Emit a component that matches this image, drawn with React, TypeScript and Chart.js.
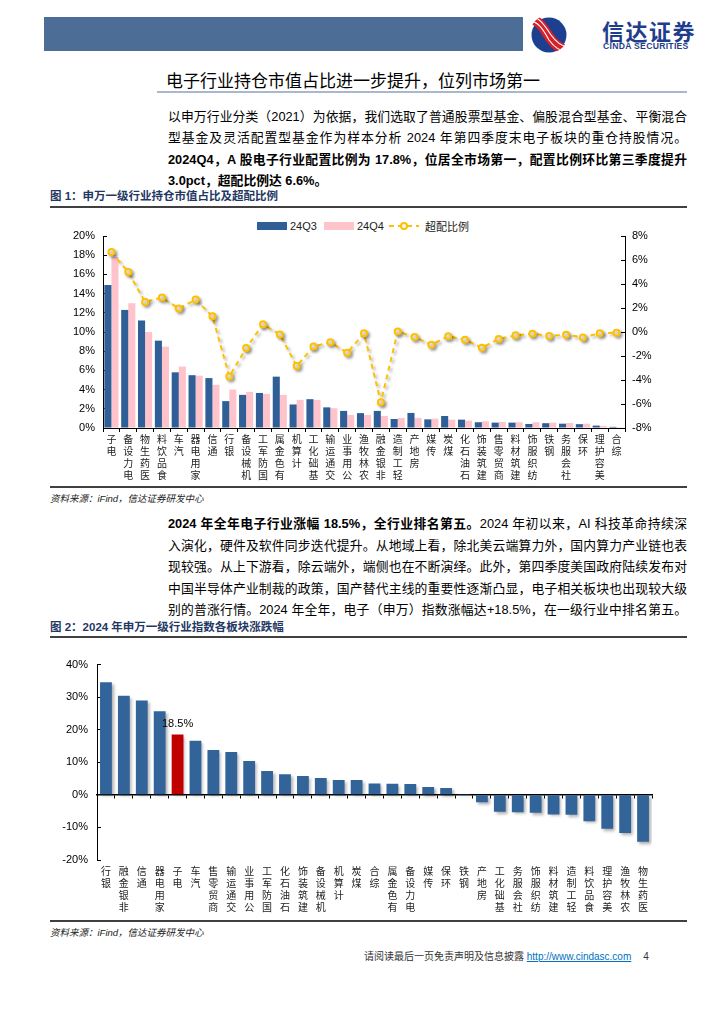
import React, { useEffect, useRef } from "react";
import { Chart, registerables } from "chart.js";
Chart.register(...registerables);

// ---------- Figure 1 data ----------
const holdingCategories = ["电子", "电力设备", "医药生物", "食品饮料", "汽车", "家用电器", "通信", "银行", "机械设备", "国防军工", "有色金属", "计算机", "基础化工", "交通运输", "公用事业", "农林牧渔", "非银金融", "轻工制造", "房地产", "传媒", "煤炭", "石油石化", "建筑装饰", "商贸零售", "建筑材料", "纺织服饰", "钢铁", "社会服务", "环保", "美容护理", "综合"];
const q3Share = [14.9, 12.3, 11.2, 9.1, 5.8, 5.5, 5.2, 2.8, 3.45, 3.65, 5.35, 2.45, 3.0, 2.15, 1.78, 1.55, 1.78, 0.94, 1.57, 0.9, 1.25, 0.87, 0.6, 0.56, 0.56, 0.42, 0.5, 0.45, 0.4, 0.25, 0.12];
const q4Share = [17.8, 13.0, 10.0, 8.47, 6.4, 5.45, 4.5, 4.0, 3.76, 3.55, 3.45, 2.93, 2.93, 2.06, 1.36, 1.36, 1.25, 1.05, 1.05, 0.98, 0.87, 0.77, 0.7, 0.63, 0.6, 0.6, 0.56, 0.52, 0.45, 0.22, 0.08];
const overweight = [6.66, 5.0, 2.5, 2.87, 1.95, 2.7, 1.31, -3.7, -1.34, 0.64, -0.2, -2.84, -1.2, -0.86, -1.73, -0.11, -5.85, 0.05, -0.42, -1.06, -0.36, -0.64, -1.31, -0.58, -0.28, -0.14, -0.33, -0.22, -0.45, -0.11, -0.06];
const seriesNames1 = ["24Q3", "24Q4", "超配比例"];

// ---------- Figure 2 data ----------
const returnCategories = ["银行", "非银金融", "通信", "家用电器", "电子", "汽车", "商贸零售", "交通运输", "公用事业", "国防军工", "石油石化", "建筑装饰", "机械设备", "计算机", "煤炭", "综合", "有色金属", "电力设备", "传媒", "环保", "钢铁", "房地产", "基础化工", "社会服务", "纺织服饰", "建筑材料", "轻工制造", "食品饮料", "美容护理", "农林牧渔", "医药生物"];
const returnValues = [34.6, 30.4, 29.0, 25.7, 18.5, 16.6, 13.8, 13.2, 10.4, 7.3, 6.3, 5.8, 5.2, 4.6, 4.6, 3.5, 3.4, 3.3, 2.4, 2.1, 0.3, -2.3, -5.2, -5.3, -5.5, -6.0, -6.1, -8.1, -10.4, -11.7, -14.4];
const highlightCategory = "电子";

const SANS = '"Liberation Sans", "Noto Sans CJK SC", sans-serif';
const CJK = '"Noto Sans CJK SC", sans-serif';
const BLUE = "#2F5F96";
const PINK = "#FFC3CB";
const GOLD = "#FFC000";

// category labels: upright characters stacked, read from bottom to top (last character next to the axis)
const stacked = (c: string) => c.split("").reverse();

const shadowPlugin = {
  id: "dsShadow",
  beforeDatasetDraw(chart: any, args: any) {
    const ds = chart.data.datasets[args.index];
    if (!ds.shadow) return;
    const ctx = chart.ctx;
    ctx.save();
    ctx.shadowColor = "rgba(0,0,0,0.32)";
    ctx.shadowBlur = 3;
    ctx.shadowOffsetX = 2;
    ctx.shadowOffsetY = 2;
  },
  afterDatasetDraw(chart: any, args: any) {
    const ds = chart.data.datasets[args.index];
    if (!ds.shadow) return;
    chart.ctx.restore();
  },
};

const valueLabelPlugin = {
  id: "valueLabel",
  afterDatasetsDraw(chart: any) {
    const idx = returnCategories.indexOf(highlightCategory);
    const meta = chart.getDatasetMeta(0);
    const el = meta.data[idx];
    if (!el) return;
    const ctx = chart.ctx;
    ctx.save();
    ctx.font = `11px ${SANS}`;
    ctx.fillStyle = "#000";
    ctx.textAlign = "center";
    ctx.textBaseline = "bottom";
    ctx.fillText(`${returnValues[idx]}%`, el.x, el.y - 5);
    ctx.restore();
  },
};

const pct = (v: any) => `${v}%`;

function HoldingChart() {
  const ref = useRef<HTMLCanvasElement>(null);
  useEffect(() => {
    const chart = new Chart(ref.current as HTMLCanvasElement, {
      type: "bar",
      data: {
        labels: holdingCategories.map(stacked),
        datasets: [
          {
            type: "line",
            label: seriesNames1[2],
            data: overweight,
            yAxisID: "y1",
            borderColor: GOLD,
            borderWidth: 2,
            borderDash: [5, 4],
            pointStyle: "circle",
            pointRadius: 3,
            pointBorderWidth: 2,
            pointBackgroundColor: "#fff",
            pointBorderColor: GOLD,
            tension: 0,
            order: 0,
            shadow: true,
          } as any,
          {
            label: seriesNames1[0],
            data: q3Share,
            backgroundColor: BLUE,
            yAxisID: "y",
            barPercentage: 1,
            categoryPercentage: 0.84,
            order: 1,
          },
          {
            label: seriesNames1[1],
            data: q4Share,
            backgroundColor: PINK,
            yAxisID: "y",
            barPercentage: 1,
            categoryPercentage: 0.84,
            order: 1,
          },
        ],
      },
      options: {
        animation: false,
        responsive: false,
        devicePixelRatio: 1,
        layout: { padding: { top: 21, left: 0, right: 0, bottom: 0 } },
        plugins: { legend: { display: false }, tooltip: { enabled: false } },
        scales: {
          x: {
            grid: { display: true, drawOnChartArea: false, drawTicks: true, tickLength: 4, color: "#000" },
            border: { display: true, color: "#000", width: 1 },
            ticks: {
              autoSkip: false,
              maxRotation: 0,
              minRotation: 0,
              padding: 1,
              color: "#222",
              font: { family: CJK, size: 10, lineHeight: 1.2 },
            },
            afterFit: (s: any) => {
              s.height = 57;
            },
          },
          y: {
            position: "left",
            min: 0,
            max: 20,
            ticks: { stepSize: 2, callback: pct, color: "#000", padding: 12, font: { family: SANS, size: 11 } },
            grid: { drawOnChartArea: false, drawTicks: true, tickLength: -4, color: "#000" },
            border: { display: true, color: "#000" },
            afterFit: (s: any) => {
              s.width = 53;
            },
          },
          y1: {
            position: "right",
            min: -8,
            max: 8,
            ticks: { stepSize: 2, callback: pct, color: "#000", padding: 11, font: { family: SANS, size: 11 } },
            grid: { drawOnChartArea: false, drawTicks: true, tickLength: -4, color: "#000" },
            border: { display: true, color: "#000" },
            afterFit: (s: any) => {
              s.width = 62;
            },
          },
        },
      } as any,
      plugins: [shadowPlugin],
    });
    return () => chart.destroy();
  }, []);
  return (
    <canvas
      ref={ref}
      width={637}
      height={270}
      style={{ position: "absolute", left: 50, top: 215, width: 637, height: 270 }}
    />
  );
}

function ReturnChart() {
  const ref = useRef<HTMLCanvasElement>(null);
  useEffect(() => {
    const chart = new Chart(ref.current as HTMLCanvasElement, {
      type: "bar",
      data: {
        labels: returnCategories.map(stacked),
        datasets: [
          {
            label: "2024年涨跌幅",
            data: returnValues,
            backgroundColor: returnCategories.map((c) => (c === highlightCategory ? "#C00000" : "#32649A")),
            barPercentage: 0.66,
            categoryPercentage: 1,
            shadow: true,
          } as any,
        ],
      },
      options: {
        animation: false,
        responsive: false,
        devicePixelRatio: 1,
        layout: { padding: { top: 15, left: 0, right: 35, bottom: 0 } },
        plugins: { legend: { display: false }, tooltip: { enabled: false } },
        scales: {
          x: {
            grid: { display: false, drawTicks: false },
            border: { display: false },
            ticks: {
              autoSkip: false,
              maxRotation: 0,
              minRotation: 0,
              padding: 5,
              color: "#222",
              font: { family: CJK, size: 10, lineHeight: 1.2 },
            },
            afterFit: (s: any) => {
              s.height = 60;
            },
          },
          x2: {
            axis: "x",
            type: "category",
            position: { y: 0 },
            offset: true,
            grid: { display: true, offset: true, drawOnChartArea: false, drawTicks: true, tickLength: 3, color: "#000" },
            border: { display: true, color: "#000", width: 1.5 },
            ticks: { display: false },
          },
          y: {
            position: "left",
            min: -20,
            max: 40,
            ticks: { stepSize: 10, callback: pct, color: "#000", padding: 13, font: { family: SANS, size: 11 } },
            grid: { drawOnChartArea: false, drawTicks: true, tickLength: -4, color: "#000" },
            border: { display: true, color: "#000" },
            afterFit: (s: any) => {
              s.width = 47;
            },
          },
        },
      } as any,
      plugins: [shadowPlugin, valueLabelPlugin],
    });
    return () => chart.destroy();
  }, []);
  return (
    <canvas
      ref={ref}
      width={637}
      height={275}
      style={{ position: "absolute", left: 50, top: 645, width: 637, height: 275 }}
    />
  );
}

const abs = (s: React.CSSProperties): React.CSSProperties => ({ position: "absolute", ...s });

const bodyLine = (top: number): React.CSSProperties =>
  abs({
    left: 168,
    top,
    width: 519,
    height: 21,
    lineHeight: "21px",
    fontSize: 12.8,
    whiteSpace: "nowrap",
    textAlign: "justify",
    textAlignLast: "justify",
    color: "#000",
  } as React.CSSProperties);

function LegendItemBox({ color, label, left }: { color: string; label: string; left: number }) {
  return (
    <div style={abs({ left, top: 219, height: 14, display: "flex", alignItems: "center" })}>
      <div style={{ width: 30, height: 8, background: color }} />
      <span style={{ marginLeft: 3, fontSize: 11, color: "#222", lineHeight: "14px" }}>{label}</span>
    </div>
  );
}

export default function App() {
  const p1 = [
    "以申万行业分类（2021）为依据，我们选取了普通股票型基金、偏股混合型基金、平衡混合",
    "型基金及灵活配置型基金作为样本分析 2024 年第四季度末电子板块的重仓持股情况。",
  ];
  const p1b = ["2024Q4，A 股电子行业配置比例为 17.8%，位居全市场第一，配置比例环比第三季度提升"];
  const p2 = [
    "入演化，硬件及软件同步迭代提升。从地域上看，除北美云端算力外，国内算力产业链也表",
    "现较强。从上下游看，除云端外，端侧也在不断演绎。此外，第四季度美国政府陆续发布对",
    "中国半导体产业制裁的政策，国产替代主线的重要性逐渐凸显，电子相关板块也出现较大级",
    "别的普涨行情。2024 年全年，电子（申万）指数涨幅达+18.5%，在一级行业中排名第五。",
  ];
  const lh = 21.3;
  return (
    <div style={abs({ left: 0, top: 0, width: 724, height: 1024, background: "#fff", fontFamily: SANS, overflow: "hidden" })}>
      {/* header */}
      <div style={abs({ left: 44, top: 17, width: 479, height: 34, background: "#4C6E96" })} />
      <svg width="46" height="42" viewBox="0 0 46 42" style={abs({ left: 526, top: 13 })}>
        <defs>
          <clipPath id="lg">
            <circle cx="23" cy="21" r="19" />
          </clipPath>
        </defs>
        <circle cx="23" cy="22" r="17.5" fill="#1C3F8F" />
        <g clipPath="url(#lg)">
          <path d="M0,6 C12,4 18,16 24,25 C29,32 36,38 46,37" stroke="#D6202A" strokeWidth="10" fill="none" />
          <path d="M0,3 C12,1 19,13 25,22 C30,29 37,35 46,34" stroke="#fff" strokeWidth="1.1" fill="none" />
          <path d="M0,8 C12,6 18,18 23,27 C28,34 36,40 46,39" stroke="#fff" strokeWidth="1.1" fill="none" />
        </g>
      </svg>
      <div style={abs({ left: 602, top: 18, fontSize: 22, fontWeight: 700, color: "#1F3D8C", letterSpacing: 1.5, lineHeight: "24px", fontFamily: CJK })}>
        信达证券
      </div>
      <div style={abs({ left: 603, top: 42, fontSize: 8.6, fontWeight: 700, color: "#1F3D8C", letterSpacing: 0.3, lineHeight: "9px" })}>
        CINDA SECURITIES
      </div>

      {/* section title */}
      <div style={abs({ left: 166, top: 70, fontSize: 17, lineHeight: "20px", color: "#000", fontFamily: CJK })}>
        电子行业持仓市值占比进一步提升，位列市场第一
      </div>
      <div style={abs({ left: 157, top: 91, width: 530, height: 2, background: "#A9B8CC" })} />

      {/* paragraph 1 */}
      {p1.map((t, i) => (
        <div key={"p1" + i} style={bodyLine(106 + i * lh)}>{t}</div>
      ))}
      {p1b.map((t, i) => (
        <div key={"p1b" + i} style={{ ...bodyLine(106 + 2 * lh), fontWeight: 700 }}>{t}</div>
      ))}
      <div style={{ ...bodyLine(106 + 3 * lh), fontWeight: 700, textAlign: "left", textAlignLast: "left" }}>3.0pct，超配比例达 6.6%。</div>

      {/* figure 1 */}
      <div style={abs({ left: 50, top: 189, fontSize: 11.5, fontWeight: 700, color: "#1F3864", lineHeight: "14px" })}>
        图 1：申万一级行业持仓市值占比及超配比例
      </div>
      <div style={abs({ left: 50, top: 206, width: 637, height: 1.5, background: "#404040" })} />
      <LegendItemBox color={BLUE} label={seriesNames1[0]} left={257} />
      <LegendItemBox color={PINK} label={seriesNames1[1]} left={324} />
      <div style={abs({ left: 389, top: 219, height: 14, display: "flex", alignItems: "center" })}>
        <svg width="30" height="12" viewBox="0 0 30 12">
          <line x1="0" y1="6" x2="30" y2="6" stroke={GOLD} strokeWidth="2" strokeDasharray="5 4" />
          <circle cx="15" cy="6" r="3" fill="#fff" stroke={GOLD} strokeWidth="2" />
        </svg>
        <span style={{ marginLeft: 6, fontSize: 11, color: "#222", lineHeight: "14px", fontFamily: CJK }}>{seriesNames1[2]}</span>
      </div>
      <HoldingChart />
      <div style={abs({ left: 50, top: 486, width: 637, height: 1.5, background: "#404040" })} />
      <div style={abs({ left: 50, top: 493, fontSize: 9.5, fontStyle: "italic", color: "#222", lineHeight: "12px" })}>
        资料来源：iFind，信达证券研发中心
      </div>

      {/* paragraph 2 */}
      <div style={bodyLine(513)}>
        <b>2024 年全年电子行业涨幅 18.5%，全行业排名第五。</b>2024 年初以来，AI 科技革命持续深
      </div>
      {p2.map((t, i) => (
        <div key={"p2" + i} style={bodyLine(513 + (i + 1) * 21.5)}>{t}</div>
      ))}

      {/* figure 2 */}
      <div style={abs({ left: 50, top: 620, fontSize: 11.5, fontWeight: 700, color: "#1F3864", lineHeight: "14px" })}>
        图 2：2024 年申万一级行业指数各板块涨跌幅
      </div>
      <div style={abs({ left: 50, top: 636, width: 637, height: 1.5, background: "#404040" })} />
      <ReturnChart />
      <div style={abs({ left: 50, top: 920, width: 637, height: 1.5, background: "#404040" })} />
      <div style={abs({ left: 50, top: 927, fontSize: 9.5, fontStyle: "italic", color: "#222", lineHeight: "12px" })}>
        资料来源：iFind，信达证券研发中心
      </div>

      {/* footer */}
      <div style={abs({ left: 364, top: 950, fontSize: 10, color: "#333", lineHeight: "13px", whiteSpace: "nowrap" })}>
        请阅读最后一页免责声明及信息披露{" "}
        <span style={{ color: "#0070C0", textDecoration: "underline" }}>http://www.cindasc.com</span>
        <span style={{ marginLeft: 12 }}>4</span>
      </div>
    </div>
  );
}
